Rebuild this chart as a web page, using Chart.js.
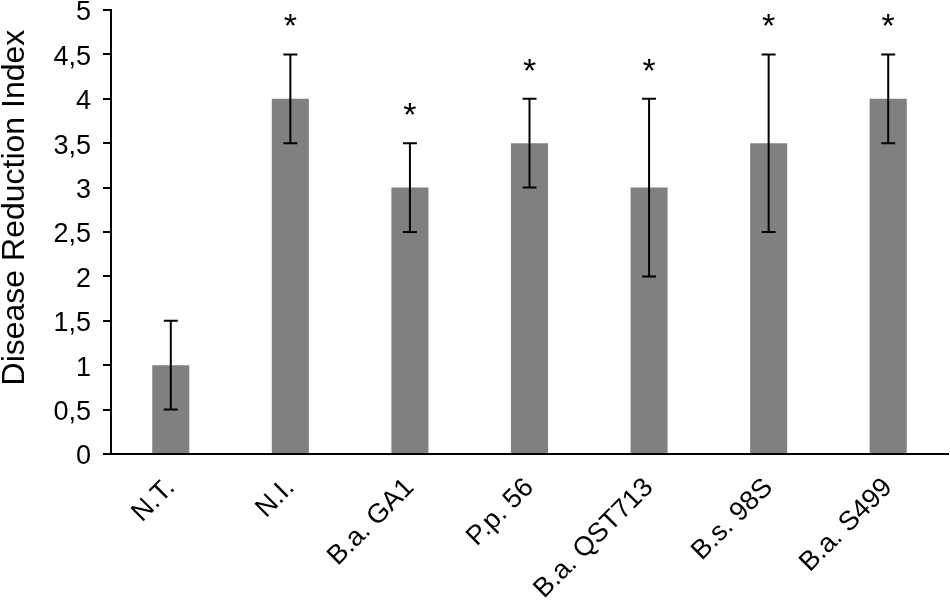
<!DOCTYPE html>
<html>
<head>
<meta charset="utf-8">
<script src="https://cdn.jsdelivr.net/npm/chart.js@4/dist/chart.umd.min.js"></script>
<style>
  html, body { margin: 0; padding: 0; background: #fff; }
  #wrap { width: 950px; height: 603px; }
</style>
</head>
<body>
<div id="wrap"><canvas id="chart"></canvas></div>
<script>
// data
const categories = ["N.T.", "N.I.", "B.a. GA1", "P.p. 56", "B.a. QST713", "B.s. 98S", "B.a. S499"];
const means = [1, 4, 3, 3.5, 3, 3.5, 4];
const errors = [0.5, 0.5, 0.5, 0.5, 1, 1, 0.5];
const significant = [false, true, true, true, true, true, true];
const yTitle = "Disease Reduction Index";

const FONT = "'Liberation Sans', Arial, sans-serif";

// error bars + asterisks, placed through the y scale
const errorBars = {
  id: "errorBars",
  afterDatasetsDraw(chart) {
    const ctx = chart.ctx;
    const y = chart.scales.y;
    const meta = chart.getDatasetMeta(0);
    ctx.save();
    ctx.strokeStyle = "#000";
    ctx.lineWidth = 2;
    meta.data.forEach((bar, i) => {
      const top = y.getPixelForValue(means[i] + errors[i]);
      const bot = y.getPixelForValue(means[i] - errors[i]);
      const half = 7;
      ctx.beginPath();
      ctx.moveTo(bar.x, top);
      ctx.lineTo(bar.x, bot);
      ctx.moveTo(bar.x - half, top);
      ctx.lineTo(bar.x + half, top);
      ctx.moveTo(bar.x - half, bot);
      ctx.lineTo(bar.x + half, bot);
      ctx.stroke();
      if (significant[i]) {
        ctx.fillStyle = "#000";
        ctx.font = "34px " + FONT;
        ctx.textAlign = "center";
        ctx.textBaseline = "alphabetic";
        ctx.fillText("*", bar.x, top - 17);
      }
    });
    ctx.restore();
  }
};

// y axis title, set a little above the middle as in the figure
const axisTitle = {
  id: "axisTitle",
  afterDraw(chart) {
    const ctx = chart.ctx;
    const area = chart.chartArea;
    ctx.save();
    ctx.translate(15, area.top + (area.bottom - area.top) * 0.445);
    ctx.rotate(-Math.PI / 2);
    ctx.fillStyle = "#000";
    ctx.font = "32px " + FONT;
    ctx.textAlign = "center";
    ctx.textBaseline = "middle";
    ctx.fillText(yTitle, 0, 0);
    ctx.restore();
  }
};

new Chart(document.getElementById("chart"), {
  type: "bar",
  data: {
    labels: categories,
    datasets: [{
      data: means,
      backgroundColor: "#808080",
      borderWidth: 0,
      categoryPercentage: 0.31,
      barPercentage: 1
    }]
  },
  options: {
    responsive: true,
    maintainAspectRatio: false,
    animation: false,
    layout: { padding: { top: 0, right: 2, left: 0, bottom: 0 } },
    plugins: { legend: { display: false }, tooltip: { enabled: false } },
    scales: {
      x: {
        grid: { display: false },
        border: { display: true, color: "#000", width: 2 },
        ticks: {
          color: "#000",
          font: { size: 27, family: FONT },
          minRotation: 45,
          maxRotation: 45,
          padding: 10
        },
        afterFit(scale) { scale.height = 149; }
      },
      y: {
        min: 0,
        max: 5,
        grid: { display: true, drawOnChartArea: false, drawTicks: true, tickLength: 8, color: "#000", lineWidth: 2 },
        border: { display: true, color: "#000", width: 2 },
        ticks: {
          stepSize: 0.5,
          color: "#000",
          padding: 12,
          labelOffset: 3,
          font: { size: 27, family: FONT },
          callback: v => String(v).replace(".", ",")
        },
        afterFit(scale) {
          scale.width = 111;
          scale.paddingTop = 10;
        }
      }
    }
  },
  plugins: [errorBars, axisTitle]
});
</script>
</body>
</html>
